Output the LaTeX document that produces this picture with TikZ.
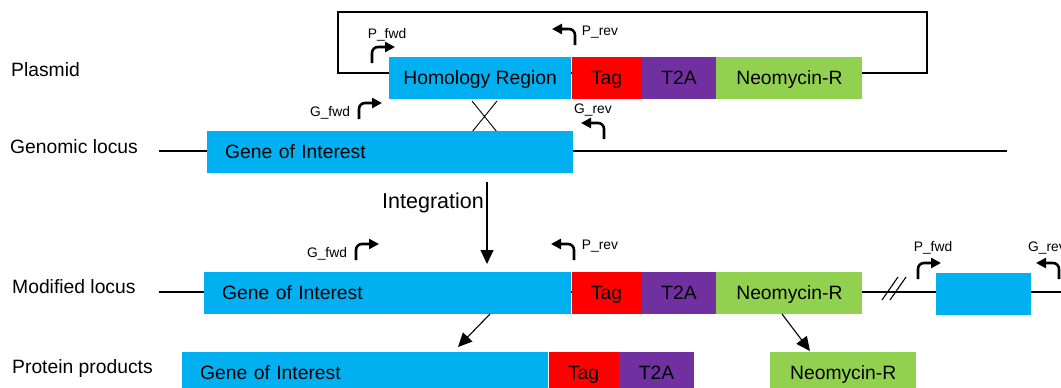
\documentclass[tikz,border=0pt]{standalone}
\usepackage{fontspec}
\setmainfont{Liberation Sans}
\usetikzlibrary{arrows.meta,positioning}
\definecolor{geneblue}{RGB}{0,176,240}
\definecolor{tagred}{RGB}{255,0,0}
\definecolor{tpurple}{RGB}{112,48,160}
\definecolor{neogreen}{RGB}{146,208,80}
\newcommand{\barfont}{\fontsize{19.3}{23}\selectfont}
\newcommand{\primerfont}{\fontsize{13.8}{16}\selectfont}
\newcommand{\intfont}{\fontsize{21.5}{25}\selectfont}
\tikzset{
  fwdprimer/.pic={\draw[primer] (0,0) -- (0,-16) -- (23,-16);},
  revprimer/.pic={\draw[primer] (0,0) -- (0,-16) -- (-23,-16);}
}

\begin{document}
\begin{tikzpicture}[x=1pt, y=-1pt,
  seg/.style={anchor=north west, inner sep=0pt, minimum height=42pt,
    text height=14pt, text depth=2pt, font=\barfont},
  geneseg/.style={seg, fill=geneblue, align=left, inner xsep=18pt},
  locus/.style={line width=2pt},
  primer/.style={line width=2.6pt, rounded corners=6pt,
    -{Triangle[length=10pt,width=10pt]}},
  plabel/.style={font=\primerfont, inner sep=0pt},
  rowlabel/.style={anchor=west, font=\barfont, inner sep=0pt},
  flow/.style={line width=1.1pt, -{Triangle[length=14pt,width=13pt]}}]
  \useasboundingbox (0,0) rectangle (1061,388);

  % row names
  \node[rowlabel] (lplasmid) at (11,70) {Plasmid};
  \node[rowlabel] (lgenomic) at (10,147) {Genomic locus};
  \node[rowlabel] (lmodified) at (12,287) {Modified locus};
  \node[rowlabel] (lprotein) at (12,369) {Protein products};

  % plasmid
  \draw[line width=2.6pt] (338,12) rectangle (927,73);
  \node[seg, fill=geneblue, minimum width=182pt] (phom) at (389,57) {Homology Region};
  \node[seg, fill=tagred, minimum width=70pt] (ptag) at (phom.north east) {Tag};
  \node[seg, fill=tpurple, minimum width=74pt] (pt2a) at (ptag.north east) {T2A};
  \node[seg, fill=neogreen, minimum width=146pt] (pneo) at (pt2a.north east) {Neomycin-R};
  \pic at (372,63) {fwdprimer};
  \node[plabel] (pfwd) at (387,35) {P\_fwd};
  \pic at (575,45) {revprimer};
  \node[plabel] (prev) at (600,32) {P\_rev};

  % crossover
  \draw[line width=0.9pt] (472,101) -- (497,132) (497,101) -- (472,132);

  % genomic locus
  \coordinate (gleft) at (159,151);
  \coordinate (gright) at (1007,151);
  \draw[locus] (gleft) -- (gright);
  \node[geneseg, text width=330pt] (ggene) at (207,131) {Gene of Interest};
  \pic at (359,119) {fwdprimer};
  \node[plabel] (gfwd) at (330,113) {G\_fwd};
  \pic at (604,139) {revprimer};
  \node[plabel] (grev) at (593,110) {G\_rev};

  % integration
  \coordinate (intfrom) at (487,182);
  \coordinate (intto) at (487,264);
  \draw[flow] (intfrom) -- (intto);
  \node[anchor=east, font=\intfont, inner sep=0pt] (intlabel) at (484,203) {Integration};

  % modified locus
  \coordinate (mleft) at (159,292);
  \coordinate (mright) at (1070,292);
  \draw[locus] (mleft) -- (mright);
  \node[geneseg, text width=331pt] (mgene) at (204,272) {Gene of Interest};
  \node[seg, fill=tagred, minimum width=70pt] (mtag) at (mgene.north east) {Tag};
  \node[seg, fill=tpurple, minimum width=74pt] (mt2a) at (mtag.north east) {T2A};
  \node[seg, fill=neogreen, minimum width=146pt] (mneo) at (mt2a.north east) {Neomycin-R};
  \node[seg, fill=geneblue, minimum width=95pt] (mextra) at (936,273) {};
  \draw[line width=1.1pt] (882,300) -- ++(16,-23) (890,300) -- ++(16,-23);
  \pic at (356,260) {fwdprimer};
  \node[plabel] (mgfwd) at (327,254) {G\_fwd};
  \pic at (574,260) {revprimer};
  \node[plabel] (mprev) at (600,246) {P\_rev};
  \pic at (918,279) {fwdprimer};
  \node[plabel] (mpfwd) at (933,248) {P\_fwd};
  \pic at (1059,279) {revprimer};
  \node[plabel, anchor=west] (mgrev) at (1028,248) {G\_rev};

  % protein products
  \node[geneseg, text width=330pt] (xgene) at (182,352) {Gene of Interest};
  \node[seg, fill=tagred, minimum width=70pt] (xtag) at (xgene.north east) {Tag};
  \node[seg, fill=tpurple, minimum width=75pt] (xt2a) at (xtag.north east) {T2A};
  \node[seg, fill=neogreen, minimum width=146pt] (xneo) at (770,352) {Neomycin-R};
  \coordinate (cutleft) at (490,314);
  \coordinate (cutright) at (782,314);
  \draw[flow] (cutleft) -- (458,347);
  \draw[flow] (cutright) -- (810,351);
\end{tikzpicture}
\end{document}
